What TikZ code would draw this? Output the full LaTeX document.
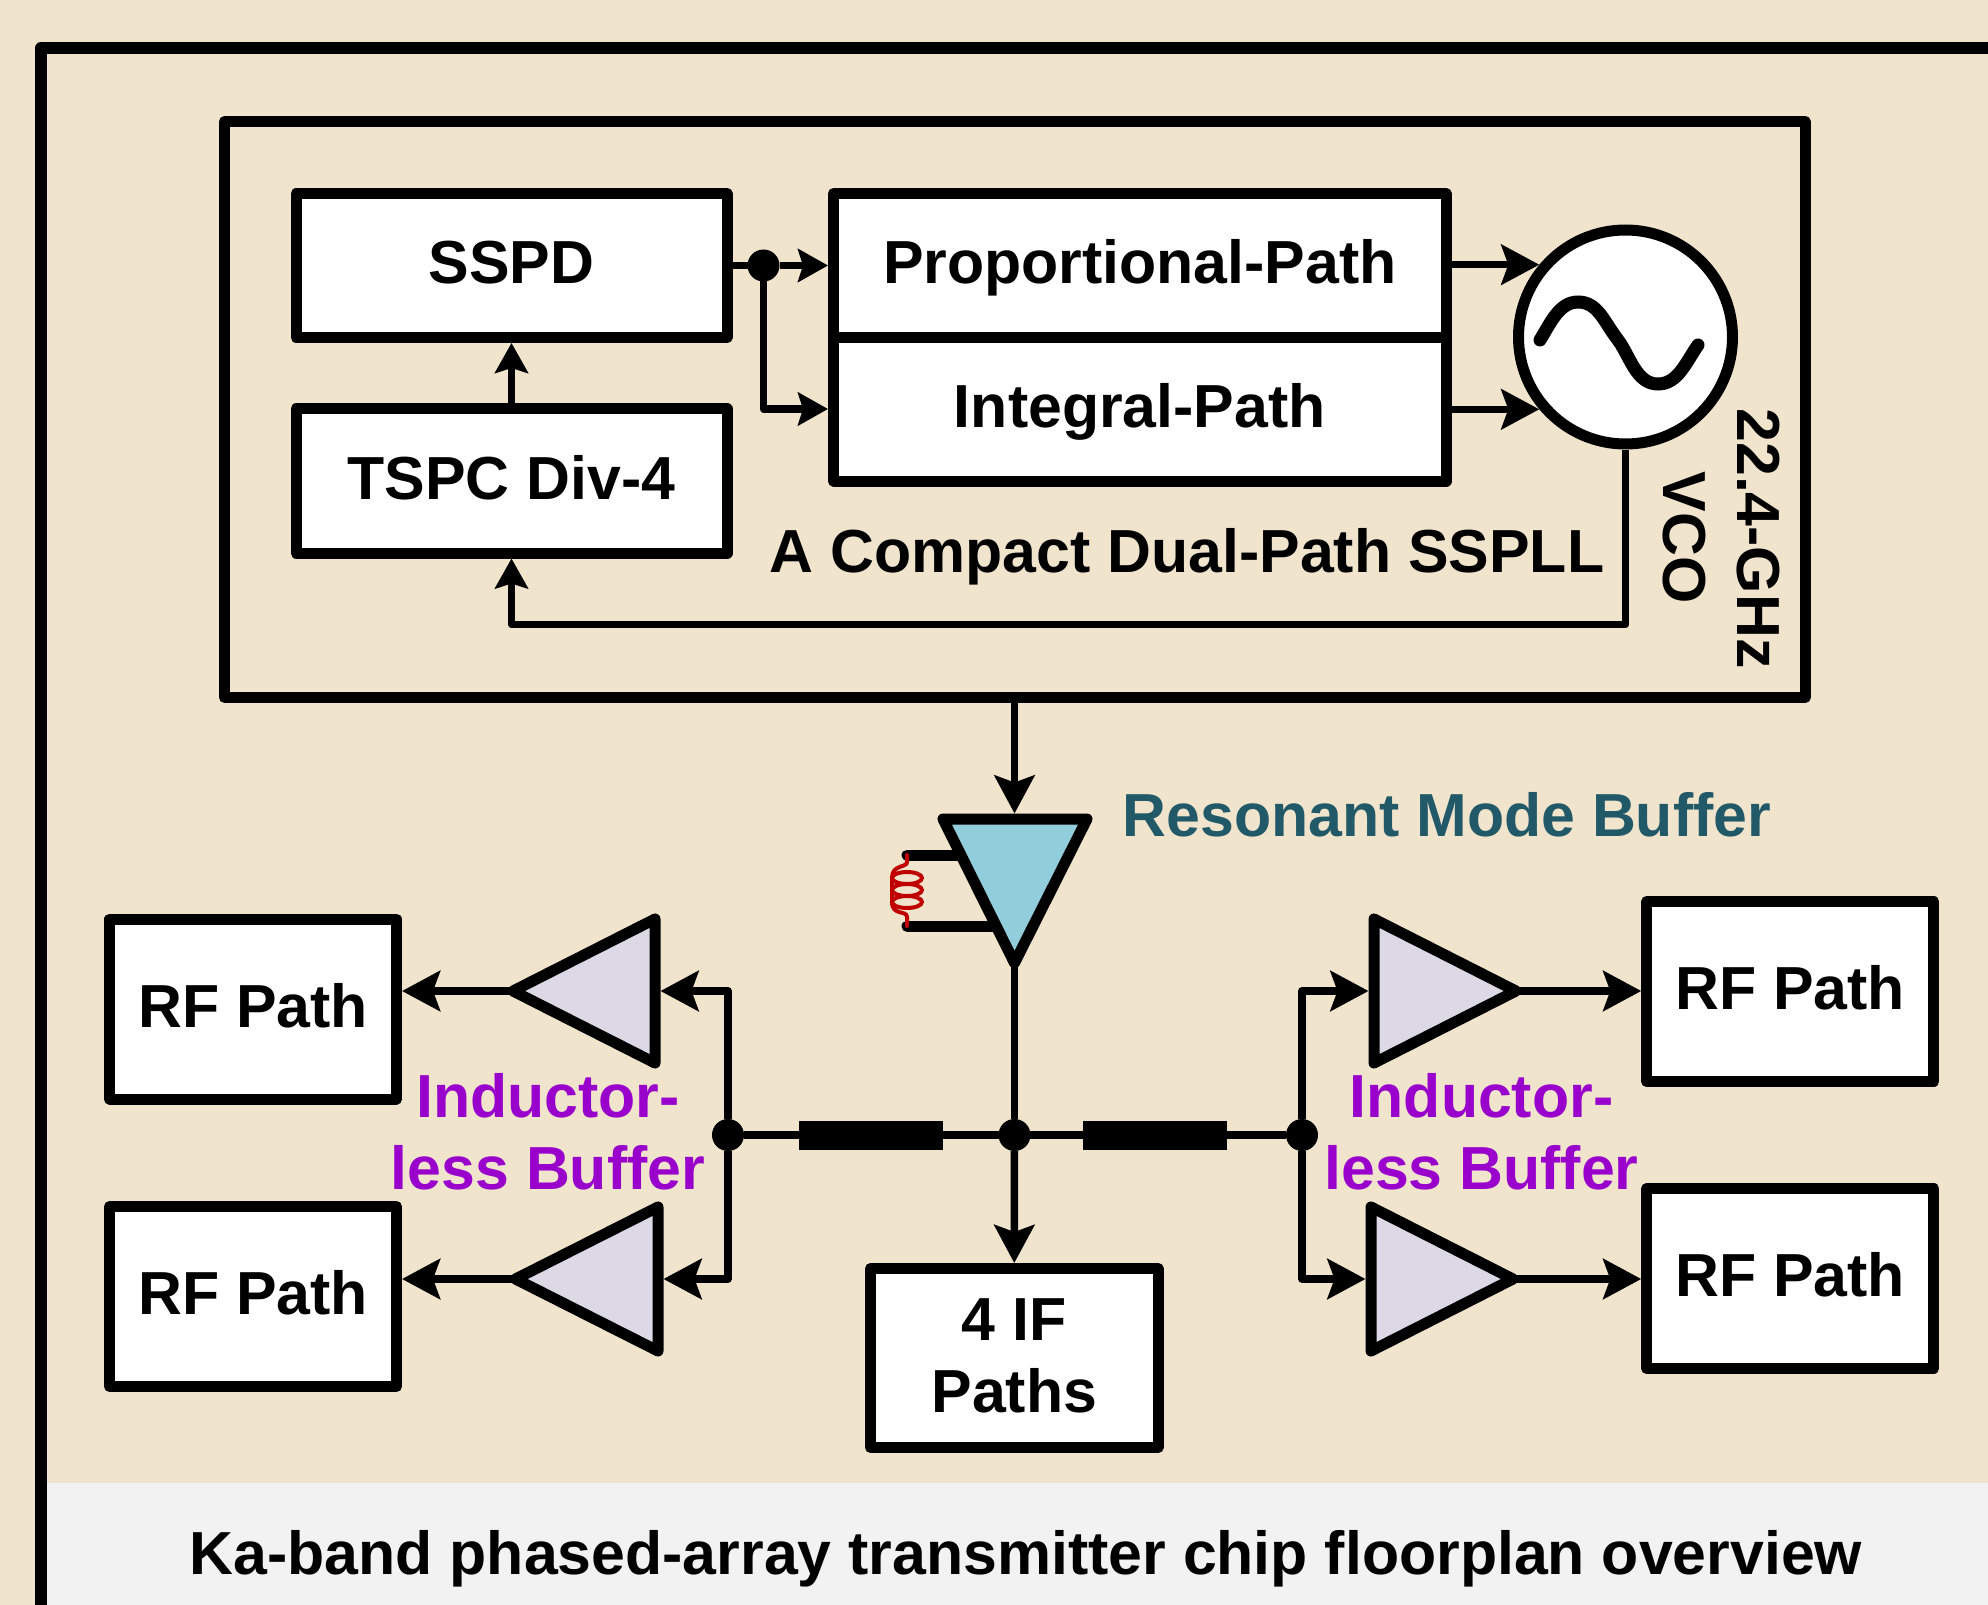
\documentclass[tikz,border=0pt]{standalone}
\usepackage{fontspec}
\setmainfont{Liberation Sans}[BoldFont={Liberation Sans Bold}]
\usetikzlibrary{arrows.meta,calc}
\definecolor{tanbg}{HTML}{F0E4CD}
\definecolor{capbg}{HTML}{F2F2F2}
\definecolor{bufblue}{HTML}{92CDDC}
\definecolor{buflav}{HTML}{DDD8E6}
\definecolor{tealtxt}{HTML}{215968}
\definecolor{purptxt}{HTML}{9900CC}
\definecolor{coil}{HTML}{C00000}
\newcommand{\upst}{\rule{0pt}{24pt}}
\newcommand{\dnst}{\rule[-6pt]{0pt}{6pt}}
\tikzset{
  x=0.5pt,y=-0.5pt,
  lab/.style={font=\fontsize{30.4}{36}\selectfont\bfseries,inner sep=0pt,outer sep=0pt,align=center},
  blkbase/.style={draw=black,fill=white,line width=5.5pt,line join=round,inner sep=0pt,align=center,font=\fontsize{30.4}{36}\selectfont\bfseries},
  blk/.style={blkbase,text height=24pt,text depth=6pt},
  wire/.style={draw=black,line width=3.75pt,line join=round},
  arr/.style={wire,-{Stealth[length=19pt,width=20pt,inset=3.5pt]}},
  sarr/.style={wire,-{Stealth[length=15pt,width=16.5pt,inset=2.5pt]}},
  dot/.style={circle,fill=black,inner sep=0pt,minimum size=16pt,outer sep=0pt},
  tri/.style={draw=black,line width=5.5pt,line join=round},
  tline/.style={fill=black,draw=none,inner sep=0pt,outer sep=0pt,minimum width=72pt,minimum height=14.5pt},
  rfbox/.style={blk,minimum width=143.5pt,minimum height=90pt},
}
\begin{document}
\begin{tikzpicture}
\useasboundingbox (0,0) rectangle (1988,1605);
\fill[tanbg] (0,0) rectangle (1988,1605);
\fill[capbg] (47,1483) rectangle (1988,1605);
\draw[line width=6pt,line join=round] (41,1605) -- (41,48) -- (1988,48);
% PLL frame
\node[draw=black,line width=5.5pt,line join=round,minimum width=790.25pt,minimum height=288pt,inner sep=0pt] (pll) at (1014.75,409.5) {};
% blocks
\node[blk,minimum width=215.5pt,minimum height=72pt] (sspd) at (511.5,265.5) {SSPD};
\node[blk,minimum width=215.5pt,minimum height=72pt] (tspc) at (511.5,481) {TSPC Div-4};
\node[blk,minimum width=306.25pt,minimum height=72pt] (prop) at (1139.75,265.5) {Proportional-Path};
\node[blk,minimum width=306.25pt,minimum height=71.75pt] (intg) at (1139.75,409.25) {Integral-Path};
\node[circle,draw=black,fill=white,line width=5.5pt,inner sep=0pt,minimum size=107pt] (vco) at (1625.5,337) {};
\draw[line width=6.5pt,line cap=round] (1540,340) .. controls (1550,324) and (1559,302) .. (1578,302)
  .. controls (1598,302) and (1604,322) .. (1618,340) .. controls (1630,356) and (1636,384) .. (1658,384)
  .. controls (1678,384) and (1686,362) .. (1698,345);
% wires
\node[dot] (d1) at (763.5,265.5) {};
\draw[wire] (sspd.east |- d1) -- (d1);
\draw[sarr] (d1) -- (prop.west |- d1);
\coordinate (iy) at (763.5,409);
\draw[sarr] (d1) -- (iy) -- (intg.west |- iy);
\draw[sarr] (tspc.north) -- (sspd.south);
\draw[arr] (prop.east |- vco.140) -- (vco.140);
\draw[arr] (intg.east |- vco.220) -- (vco.220);
\coordinate (fb1) at (vco.south |- 0,624.5);
\coordinate (fb2) at (tspc.south |- 0,624.5);
\draw[sarr] (vco.south) -- (fb1) -- (fb2) -- (tspc.south);
% labels in PLL
\node[lab,anchor=base] (tpll) at (1187,572) {A Compact Dual-Path SSPLL};
\node[lab,anchor=base,rotate=-90] (tvco) at (1663.5,537.5) {VCO};
\node[lab,anchor=base,rotate=-90] (tghz) at (1737.5,538.5) {22.4-GHz};
% resonant buffer
\coordinate (bt) at (1014.5,813.5);
\coordinate (bb) at (1014.5,963);
\draw[arr] (pll.south -| bt) -- (bt);
\coordinate (s1a) at (907,855);
\coordinate (s1b) at (961,855);
\coordinate (s2a) at (907,926);
\coordinate (s2b) at (997,926);
\draw[line width=5.5pt,line cap=round] (s1a) -- (s1b);
\draw[line width=5.5pt,line cap=round] (s2a) -- (s2b);
\draw[tri,fill=bufblue] (943,819) -- (1087,819) -- (bb) -- cycle;
\draw[coil,line width=2pt,line cap=round] (s1a) -- (907,862) .. controls (907,868) and (892,864) .. (892,878)
  .. controls (892,884) and (892,884) .. (892,890)
  .. controls (892,896) and (892,896) .. (892,902) .. controls (892,916) and (907,910) .. (907,917) -- (s2a);
\foreach \yy in {878,890,902} \draw[coil,line width=2pt] (907,\yy) ellipse (15 and 6);
\node[lab,text=tealtxt,anchor=west] (tres) at (1122.5,815) {Resonant Mode Buffer};
% splitter
\node[dot] (dc) at (1014.5,1135) {};
\node[dot] (dl) at (728,1135) {};
\node[dot] (dr) at (1302,1135) {};
\draw[wire] (bb) -- (dc);
\draw[wire] (dl) -- (dr);
\node[tline] (tl) at (871,1135) {};
\node[tline] (tr) at (1155,1135) {};
\node[blkbase,minimum width=143.75pt,minimum height=89.5pt] (ifp) at (1014.25,1358) {\upst 4 IF\\\dnst Paths};
\draw[arr] (dc) -- (ifp.north);
% RF boxes
\node[rfbox] (rf1) at (253,1009) {RF Path};
\node[rfbox] (rf2) at (253,1296.5) {RF Path};
\node[rfbox] (rf3) at (1790.25,991.5) {RF Path};
\node[rfbox] (rf4) at (1790.25,1278.5) {RF Path};
% left amps
\coordinate (l1t) at (513,991);
\coordinate (l2t) at (515.5,1279);
\coordinate (l1a) at (660.5,991);
\coordinate (l2a) at (663.5,1279);
\draw[tri,fill=buflav] (l1t) -- (655,919) -- (655,1063) -- cycle;
\draw[tri,fill=buflav] (l2t) -- (658,1207) -- (658,1351) -- cycle;
\coordinate (lv1) at (728,991);
\coordinate (lv2) at (728,1279);
\draw[arr] (dl) -- (lv1) -- (l1a);
\draw[arr] (dl) -- (lv2) -- (l2a);
\draw[arr] (l1t) -- (rf1.east |- l1t);
\draw[arr] (l2t) -- (rf2.east |- l2t);
% right amps
\coordinate (r1t) at (1516,991);
\coordinate (r2t) at (1513,1279);
\coordinate (r1a) at (1368.5,991);
\coordinate (r2a) at (1365.5,1279);
\draw[tri,fill=buflav] (r1t) -- (1374,919) -- (1374,1063) -- cycle;
\draw[tri,fill=buflav] (r2t) -- (1371,1207) -- (1371,1351) -- cycle;
\coordinate (rv1) at (1302,991);
\coordinate (rv2) at (1302,1279);
\draw[arr] (dr) -- (rv1) -- (r1a);
\draw[arr] (dr) -- (rv2) -- (r2a);
\draw[arr] (r1t) -- (rf3.west |- r1t);
\draw[arr] (r2t) -- (rf4.west |- r2t);
% labels
\node[lab,text=purptxt] (il) at (548,1135) {\upst Inductor-\\\dnst less Buffer};
\node[lab,text=purptxt] (ir) at (1481.5,1135) {\upst Inductor-\\\dnst less Buffer};
\node[lab,anchor=base] (cap) at (1026,1574) {Ka-band phased-array transmitter chip floorplan overview};
\end{tikzpicture}
\end{document}
